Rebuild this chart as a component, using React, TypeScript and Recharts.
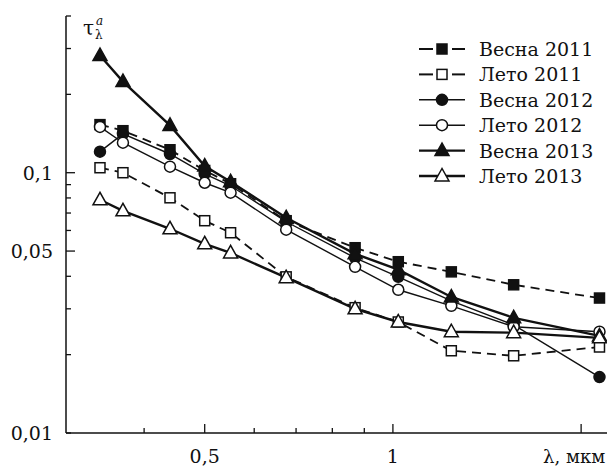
import { LineChart, Line, XAxis, YAxis, Customized } from "recharts";

// wavelengths, μm
const wavelengths = [0.34, 0.37, 0.44, 0.5, 0.55, 0.675, 0.87, 1.02, 1.24, 1.56, 2.14];

// aerosol optical depth per season
const spring2011 = [0.153, 0.145, 0.1225, 0.102, 0.0907, 0.0654, 0.0515, 0.0455, 0.0416, 0.0371, 0.033];
const summer2011 = [0.1045, 0.1, 0.0801, 0.0654, 0.0588, 0.0398, 0.0303, 0.0267, 0.0207, 0.0198, 0.0214];
const spring2012 = [0.1205, 0.141, 0.118, 0.099, 0.0891, 0.0648, 0.0471, 0.0398, 0.0322, 0.026, 0.0164];
const summer2012 = [0.15, 0.1304, 0.1055, 0.0915, 0.0838, 0.0604, 0.0435, 0.0355, 0.0308, 0.0256, 0.0245];
const spring2013 = [0.282, 0.224, 0.152, 0.106, 0.0923, 0.0671, 0.0488, 0.0424, 0.0333, 0.0277, 0.0236];
const summer2013 = [0.0787, 0.0714, 0.0609, 0.0533, 0.0492, 0.0395, 0.03, 0.0267, 0.0245, 0.0243, 0.0232];

const seriesNames = ["Весна 2011", "Лето 2011", "Весна 2012", "Лето 2012", "Весна 2013", "Лето 2013"];

const xTicks = [0.4, 0.5, 0.6, 0.7, 0.8, 0.9, 1, 2];
const xLabels: Record<string, string> = { "0.5": "0,5", "1": "1", "2": "λ, мкм" };
const yTicks = [0.01, 0.02, 0.03, 0.04, 0.05, 0.06, 0.07, 0.08, 0.09, 0.1, 0.2, 0.3, 0.4];
const yLabels: Record<string, string> = { "0.01": "0,01", "0.05": "0,05", "0.1": "0,1" };

const INK = "#111";
const FONT = "DejaVu Serif";

const series = [
  { key: "s11", name: seriesNames[0], values: spring2011, shape: "square", filled: true, dash: "9 6", width: 1.8 },
  { key: "u11", name: seriesNames[1], values: summer2011, shape: "square", filled: false, dash: "9 6", width: 1.8 },
  { key: "s12", name: seriesNames[2], values: spring2012, shape: "circle", filled: true, dash: undefined, width: 1.4 },
  { key: "u12", name: seriesNames[3], values: summer2012, shape: "circle", filled: false, dash: undefined, width: 1.4 },
  { key: "s13", name: seriesNames[4], values: spring2013, shape: "triangle", filled: true, dash: undefined, width: 2.4 },
  { key: "u13", name: seriesNames[5], values: summer2013, shape: "triangle", filled: false, dash: undefined, width: 2.4 },
];

const data = wavelengths.map((lambda, i) => {
  const row: Record<string, number> = { lambda };
  series.forEach((s) => (row[s.key] = s.values[i]));
  return row;
});

function Marker({ cx, cy, shape, filled }: any) {
  if (cx == null || cy == null) return null;
  const fill = filled ? INK : "#fff";
  if (shape === "square")
    return <rect x={cx - 5} y={cy - 5} width={10} height={10} fill={fill} stroke={INK} strokeWidth={1.5} />;
  if (shape === "circle") return <circle cx={cx} cy={cy} r={5.5} fill={fill} stroke={INK} strokeWidth={1.5} />;
  return (
    <polygon
      points={`${cx},${cy - 7.5} ${cx - 7},${cy + 5} ${cx + 7},${cy + 5}`}
      fill={fill}
      stroke={INK}
      strokeWidth={1.5}
    />
  );
}

function XTick({ x, y, payload }: any) {
  const v = payload.value;
  const major = v === 0.5 || v === 1 || v === 2;
  const label = xLabels[String(v)];
  return (
    <g>
      <line x1={x} x2={x} y1={y} y2={y - (major ? 9 : 5)} stroke={INK} strokeWidth={1.3} />
      {label && (
        <text x={v === 2 ? x - 7 : x} y={y + 30} textAnchor="middle" fontFamily={FONT} fontSize={v === 2 ? 18 : 19} fill={INK}>
          {label}
        </text>
      )}
    </g>
  );
}

function YTick({ x, y, payload }: any) {
  const v = payload.value;
  const major = v === 0.05 || v === 0.1;
  const label = yLabels[String(v)];
  return (
    <g>
      <line x1={x} x2={x + (major ? 9 : 5)} y1={y} y2={y} stroke={INK} strokeWidth={1.3} />
      {label && (
        <text x={x - 13} y={y + 7} textAnchor="end" fontFamily={FONT} fontSize={19} fill={INK}>
          {label}
        </text>
      )}
    </g>
  );
}

function Decorations() {
  return (
    <g fill={INK} fontFamily={FONT}>
      <text x={83} y={35} fontSize={20} fontFamily={FONT}>
        τ
      </text>
      <text x={96} y={25} fontSize={12} fontStyle="italic" fontFamily={FONT}>
        a
      </text>
      <text x={95} y={39} fontSize={12} fontFamily={FONT}>
        λ
      </text>
      {series.map((s, i) => {
        const cy = 49 + i * 25.4;
        return (
          <g key={s.key}>
            {s.dash ? (
              <>
                <line x1={419} x2={433} y1={cy} y2={cy} stroke={INK} strokeWidth={2} />
                <line x1={452} x2={465} y1={cy} y2={cy} stroke={INK} strokeWidth={2} />
              </>
            ) : (
              <line x1={419} x2={465} y1={cy} y2={cy} stroke={INK} strokeWidth={s.width} />
            )}
            <Marker cx={442} cy={cy} shape={s.shape} filled={s.filled} />
            <text x={479} y={cy + 7} fontSize={19} fontFamily={FONT}>
              {s.name}
            </text>
          </g>
        );
      })}
    </g>
  );
}

export default function App() {
  return (
    <div style={{ position: "absolute", left: 0, top: 0, background: "#fff" }}>
      <LineChart width={610} height={468} data={data} margin={{ top: 16, right: 3, bottom: 0, left: 0 }}>
        <XAxis
          dataKey="lambda"
          type="number"
          scale="log"
          domain={[0.3, 2.2]}
          allowDataOverflow
          ticks={xTicks}
          interval={0}
          height={35}
          tickSize={0}
          tickMargin={0}
          tickLine={false}
          tick={<XTick />}
          axisLine={{ stroke: INK, strokeWidth: 1.5 }}
        />
        <YAxis
          type="number"
          scale="log"
          domain={[0.01, 0.4]}
          allowDataOverflow
          ticks={yTicks}
          interval={0}
          width={66}
          tickSize={0}
          tickMargin={0}
          tickLine={false}
          tick={<YTick />}
          axisLine={{ stroke: INK, strokeWidth: 1.5 }}
        />
        {series.map((s) => (
          <Line
            key={s.key}
            dataKey={s.key}
            name={s.name}
            stroke={INK}
            strokeWidth={s.width}
            strokeDasharray={s.dash}
            isAnimationActive={false}
            dot={(p: any) => <Marker key={`${s.key}-${p.index}`} cx={p.cx} cy={p.cy} shape={s.shape} filled={s.filled} />}
            activeDot={false}
          />
        ))}
        <Customized component={<Decorations />} />
      </LineChart>
    </div>
  );
}
